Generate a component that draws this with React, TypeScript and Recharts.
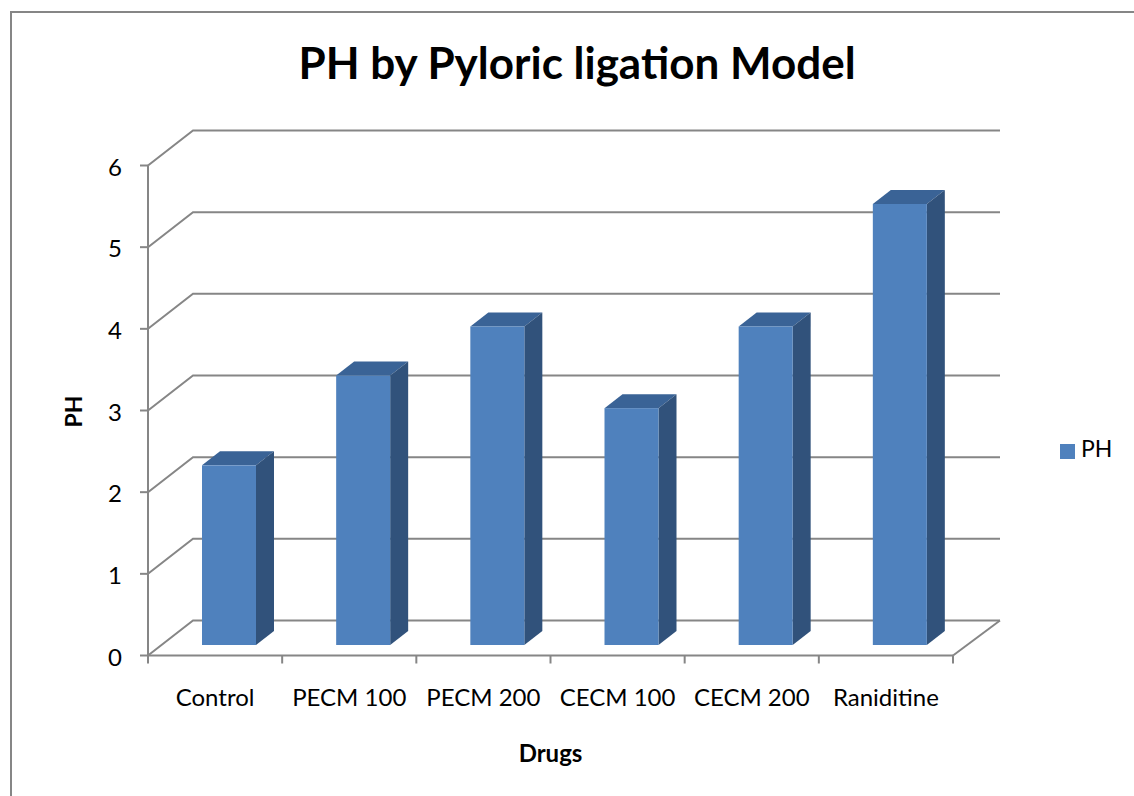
import React from "react";
import { BarChart, Bar, XAxis, YAxis, CartesianGrid, Legend } from "recharts";

const categories = ["Control", "PECM 100", "PECM 200", "CECM 100", "CECM 200", "Raniditine"];
const phValues = [2.2, 3.3, 3.9, 2.9, 3.9, 5.4];
const yTicks = [0, 1, 2, 3, 4, 5, 6];

const data = categories.map((name, i) => ({ name, PH: phValues[i] }));

const FONT = "Lato, 'Open Sans', sans-serif";
const GRID = "#868686";
const FRONT = "#4F81BD";
const SIDE = "#31527B";
const TOP = "#3A6396";

// depth of the fake 3d box
const WALL_DX = 45;
const WALL_DY = -35;
const BAR_SHIFT_X = 14;
const BAR_SHIFT_Y = -10.5;
const BAR_DX = 18;
const BAR_DY = -14;

const GridLine = (props: any) => {
    const { x1, x2, y1 } = props;
    const isFloor = Math.abs(y1 - 655.5) < 1;
    const d = `M${x1},${y1} L${x1 + WALL_DX},${y1 + WALL_DY} L${x2 + WALL_DX + 2},${y1 + WALL_DY}`;
    return (
        <g>
            <path d={d} fill="none" stroke={GRID} strokeWidth={2} />
            {isFloor && (
                <path
                    d={`M${x2 + WALL_DX + 2},${y1 + WALL_DY} L${x2},${y1}`}
                    fill="none"
                    stroke={GRID}
                    strokeWidth={2}
                />
            )}
        </g>
    );
};

const Box3D = (props: any) => {
    const { x, y, width, height } = props;
    const left = x + BAR_SHIFT_X;
    const top = y + BAR_SHIFT_Y;
    const right = left + width;
    const bottom = top + height;
    return (
        <g>
            <path
                d={`M${left},${top} L${left + BAR_DX},${top + BAR_DY} L${right + BAR_DX},${top + BAR_DY} L${right},${top} Z`}
                fill={TOP}
            />
            <path
                d={`M${right},${top} L${right + BAR_DX},${top + BAR_DY} L${right + BAR_DX},${bottom + BAR_DY} L${right},${bottom} Z`}
                fill={SIDE}
            />
            <rect x={left} y={top} width={width} height={height} fill={FRONT} />
        </g>
    );
};

// ticks sit between the categories, not under them
const XTick = (props: any) => {
    const { x, y, index, payload } = props;
    const band = 805 / categories.length;
    return (
        <g>
            <line x1={x - band / 2} x2={x - band / 2} y1={y - 8} y2={y} stroke={GRID} strokeWidth={2} />
            {index === categories.length - 1 && (
                <line x1={x + band / 2} x2={x + band / 2} y1={y - 8} y2={y} stroke={GRID} strokeWidth={2} />
            )}
            <text x={x} y={y + 42} textAnchor="middle" fontSize={24} fontFamily={FONT} fill="#000">
                {payload.value}
            </text>
        </g>
    );
};

const YTick = (props: any) => {
    const { x, y, payload } = props;
    return (
        <text x={x} y={y + 10} textAnchor="end" fontSize={24} fontFamily={FONT} fill="#000">
            {payload.value}
        </text>
    );
};

const App = () => {
    return (
        <div style={{ position: "absolute", left: 0, top: 0, width: 1134, height: 796, background: "#fff", overflow: "hidden" }}>
            <div
                style={{
                    position: "absolute",
                    left: 10,
                    top: 11,
                    width: 1200,
                    height: 900,
                    border: "2px solid #868686",
                    boxSizing: "border-box",
                }}
            />
            <div
                style={{
                    position: "absolute",
                    left: 0,
                    width: 1154,
                    top: 35,
                    textAlign: "center",
                    fontFamily: FONT,
                    fontWeight: 700,
                    fontSize: 44,
                    lineHeight: "54px",
                    color: "#000",
                }}
            >
                PH by Pyloric ligation Model
            </div>
            <div style={{ position: "absolute", left: 0, top: 0 }}>
                <BarChart
                    width={1134}
                    height={796}
                    data={data}
                    margin={{ top: 165.5, right: 181, bottom: 51.5, left: 48 }}
                    barSize={54}
                >
                    <CartesianGrid vertical={false} horizontal={<GridLine />} />
                    <XAxis
                        dataKey="name"
                        stroke={GRID}
                        strokeWidth={2}
                        tickLine={false}
                        tickSize={8}
                        tickMargin={0}
                        interval={0}
                        height={89}
                        tick={<XTick />}
                        label={{ value: "Drugs", position: "bottom", offset: 0, fontSize: 24, fontWeight: 700, fill: "#000", fontFamily: FONT }}
                    />
                    <YAxis
                        domain={[0, 6]}
                        ticks={yTicks}
                        stroke={GRID}
                        strokeWidth={2}
                        tickSize={8}
                        tickMargin={18}
                        width={100}
                        tick={<YTick />}
                        label={{ value: "PH", angle: -90, position: "insideLeft", offset: 26, dy: 17, fontSize: 23, fontWeight: 700, fill: "#000", fontFamily: FONT }}
                    />
                    <Legend
                        layout="vertical"
                        align="center"
                        verticalAlign="middle"
                        iconSize={15}
                        formatter={(value: string) => (
                            <span style={{ color: "#000", paddingLeft: 2 }}>{value}</span>
                        )}
                        wrapperStyle={{ left: 1060, top: 434, width: 70, fontSize: 23, fontFamily: FONT }}
                    />
                    <Bar dataKey="PH" legendType="square" isAnimationActive={false} shape={<Box3D />} fill={FRONT} />
                </BarChart>
            </div>
        </div>
    );
};

export default App;
